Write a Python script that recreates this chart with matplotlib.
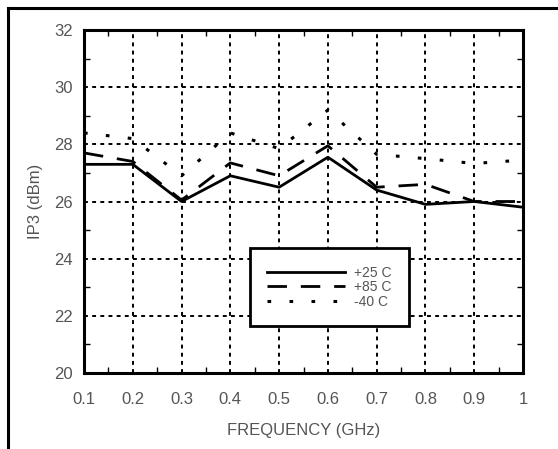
import matplotlib.pyplot as plt
from matplotlib.lines import Line2D
from matplotlib.ticker import MultipleLocator

# Data
freq = [0.1, 0.2, 0.3, 0.4, 0.5, 0.6, 0.7, 0.8, 0.9, 1.0]
ip3_p25 = [27.3, 27.3, 26.0, 26.9, 26.5, 27.55, 26.4, 25.9, 26.0, 25.8]
ip3_p85 = [27.7, 27.4, 26.05, 27.35, 26.9, 27.95, 26.5, 26.6, 26.0, 26.0]
ip3_m40 = [28.4, 28.2, 26.9, 28.4, 27.85, 29.2, 27.65, 27.5, 27.33, 27.45]
labels = ['+25 C', '+85 C', '-40 C']

txt = '#555555'
plt.rcParams['font.family'] = ['Liberation Sans', 'DejaVu Sans']

fig = plt.figure(figsize=(5.58, 4.49), dpi=100)
ax = fig.add_axes([84 / 558, 1 - 373 / 449, 439 / 558, 343 / 449])

ax.plot(freq, ip3_p25, color='black', lw=2.0, label=labels[0])
ax.plot(freq, ip3_p85, color='black', lw=2.0, linestyle=(0, (7, 5)), label=labels[1])
ax.plot(freq, ip3_m40, color='black', lw=2.2, linestyle=(0, (1.2, 6)), label=labels[2])

ax.set_xlim(0.1, 1.0)
ax.set_ylim(20, 32)
ax.set_xticks(freq)
ax.set_xticklabels(['0.1', '0.2', '0.3', '0.4', '0.5', '0.6', '0.7', '0.8', '0.9', '1'])
ax.set_yticks([20, 22, 24, 26, 28, 30, 32])
ax.xaxis.set_minor_locator(MultipleLocator(0.05))
ax.yaxis.set_minor_locator(MultipleLocator(1))
ax.grid(True, which='major', color='black', lw=1.4, linestyle=(0, (2, 2.2)))
ax.tick_params(which='both', direction='in', top=True, right=True, color='black')
ax.tick_params(which='major', length=0, labelsize=12, labelcolor=txt)
ax.tick_params(axis='x', which='major', pad=14)
ax.tick_params(axis='y', which='major', pad=8)
ax.tick_params(which='minor', length=4, width=1)
for s in ax.spines.values():
    s.set_linewidth(2.2)

ax.set_xlabel('FREQUENCY (GHz)', fontsize=12, color=txt, labelpad=11)
ax.set_ylabel('IP3 (dBm)', fontsize=12, color=txt, labelpad=8)

leg = ax.legend(loc='upper left', bbox_to_anchor=(0.378, 0.364), borderaxespad=0,
                fontsize=10, handlelength=5.6, handletextpad=0.65, labelspacing=0.05,
                borderpad=1.25, fancybox=False, framealpha=1, edgecolor='black')
leg.get_frame().set_linewidth(2)
for t in leg.get_texts():
    t.set_color(txt)

# outer frame on the top and left edges
fig.add_artist(Line2D([8 / 558, 1], [1 - 8 / 449, 1 - 8 / 449], color='black', lw=2.2))
fig.add_artist(Line2D([8 / 558, 8 / 558], [0, 1 - 8 / 449], color='black', lw=2.2))

fig.savefig('out.png', dpi=100)
